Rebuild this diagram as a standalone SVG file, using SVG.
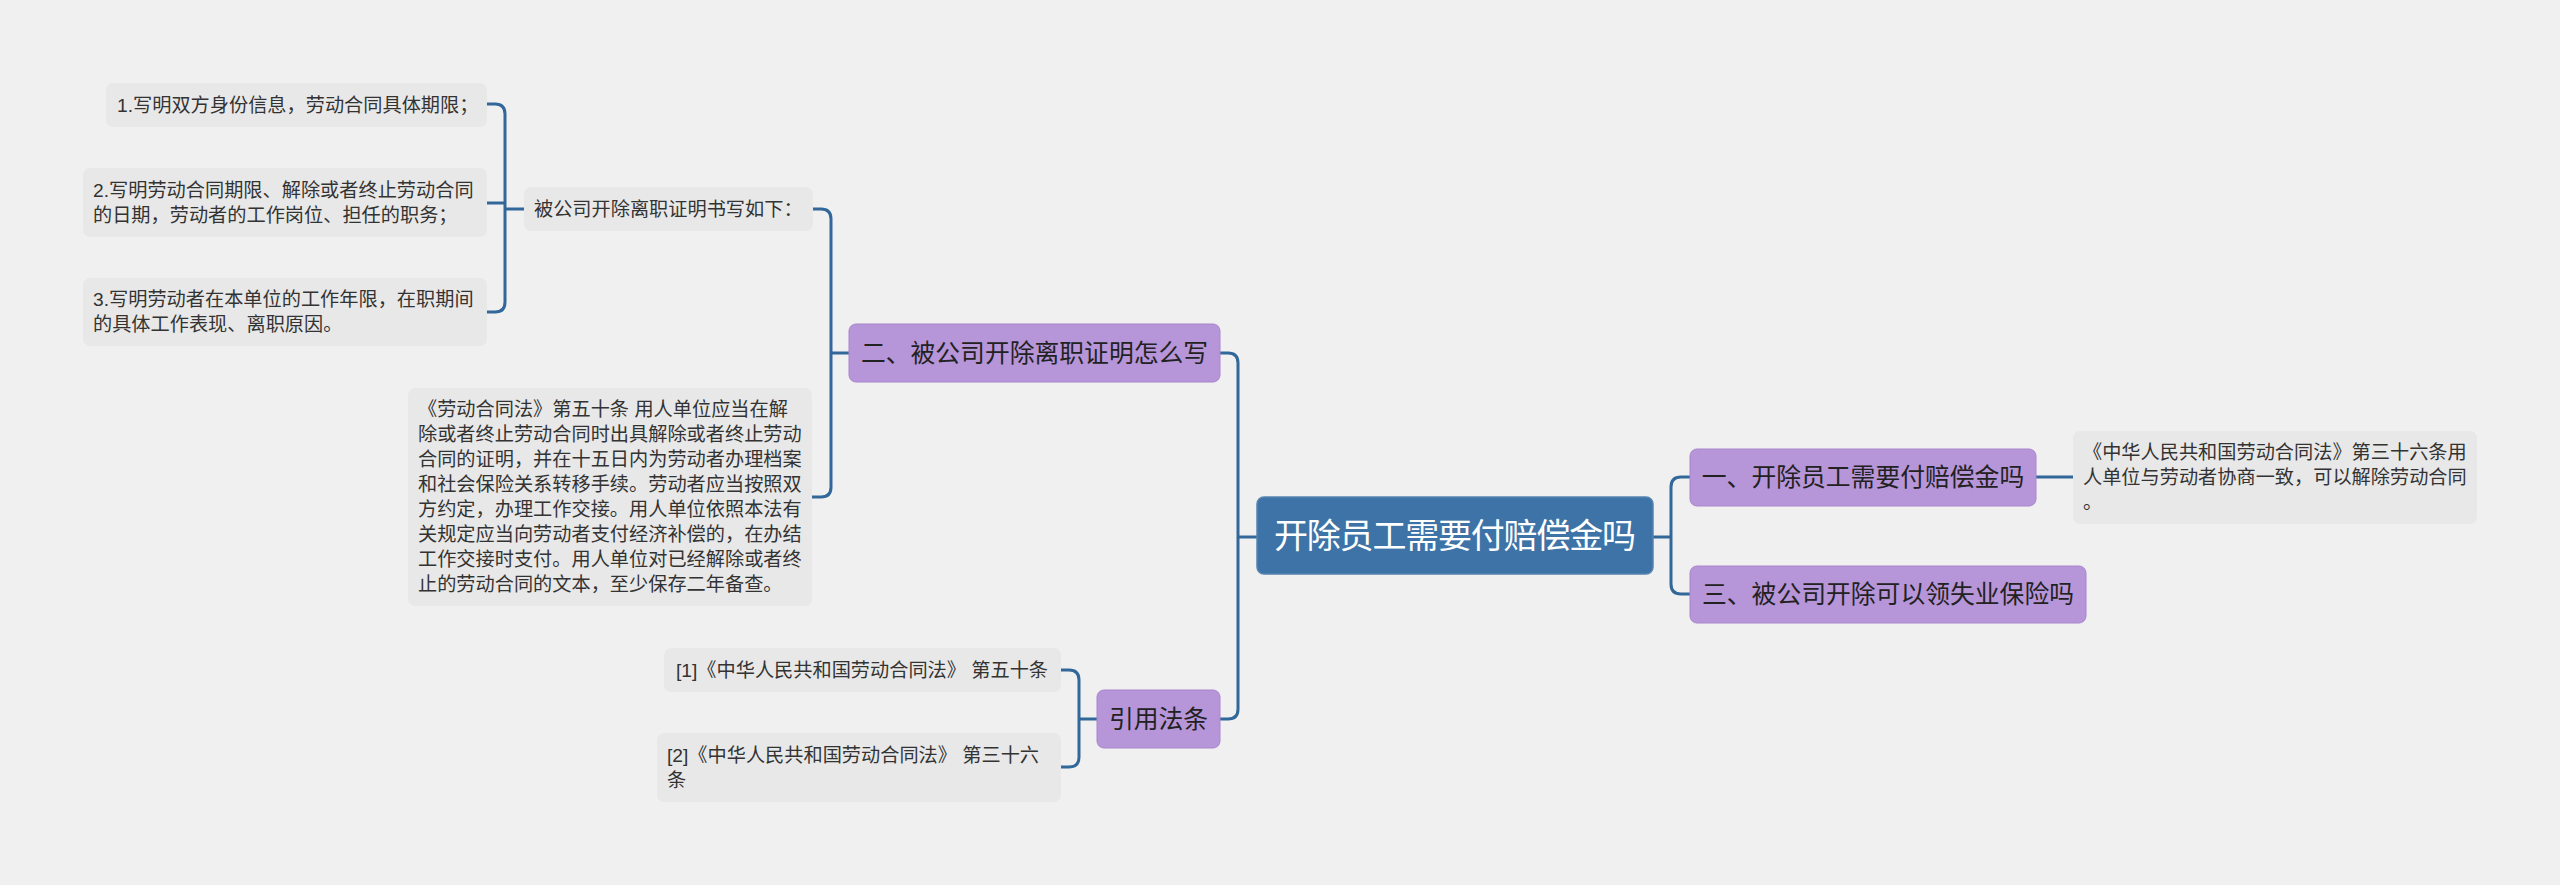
<svg xmlns="http://www.w3.org/2000/svg" width="2560" height="885" viewBox="0 0 2560 885">
<style>
text{font-family:"Liberation Sans","Noto Sans CJK SC",sans-serif;dominant-baseline:central}
.leaf rect{fill:#e8e8e8}
.leaf text{font-size:19.2px;fill:#333}
.branch rect{fill:#b795d9;stroke:#a986cd;stroke-width:1}
.branch text{font-size:24.8px;fill:#222;text-anchor:middle}
.root rect{fill:#3d73a6;stroke:#5683b0;stroke-width:1.5}
.root text{font-size:34px;fill:#fff;text-anchor:middle}
.conn path{fill:none;stroke:#32679a;stroke-width:3;stroke-linecap:butt}
</style>
<rect x="0" y="0" width="2560" height="885" fill="#f0f0f0"/>
<g class="conn" id="connectors">
<path d="M524,209 H505"/>
<path d="M505,209 V114 Q505,104 495,104 H487"/>
<path d="M505,209 V302 Q505,312 495,312 H487"/>
<path d="M505,203 H487"/>
<path d="M849,353 H831"/>
<path d="M831,353 V219 Q831,209 821,209 H813"/>
<path d="M831,353 V487 Q831,497 821,497 H812"/>
<path d="M1257,537 H1238"/>
<path d="M1238,537 V363 Q1238,353 1228,353 H1220"/>
<path d="M1238,537 V709 Q1238,719 1228,719 H1220"/>
<path d="M1097,719 H1079"/>
<path d="M1079,719 V680 Q1079,670 1069,670 H1061"/>
<path d="M1079,719 V757 Q1079,767 1069,767 H1061"/>
<path d="M1653,537 H1671"/>
<path d="M1671,537 V487 Q1671,477 1681,477 H1690"/>
<path d="M1671,537 V584 Q1671,594 1681,594 H1690"/>
<path d="M2036,477 H2073"/>
</g>
<g id="root" class="root">
<rect x="1257" y="497" width="396" height="77" rx="7"/>
<text x="1455" y="536" textLength="362" lengthAdjust="spacing">开除员工需要付赔偿金吗</text>
</g>
<g id="b2" class="branch">
<rect x="849" y="324" width="371" height="58" rx="7"/>
<text x="1034.5" y="353">二、被公司开除离职证明怎么写</text>
</g>
<g id="bref" class="branch">
<rect x="1097" y="690" width="123" height="58" rx="7"/>
<text x="1158.5" y="719">引用法条</text>
</g>
<g id="b1" class="branch">
<rect x="1690" y="449" width="346" height="57" rx="7"/>
<text x="1863" y="477.5">一、开除员工需要付赔偿金吗</text>
</g>
<g id="b3" class="branch">
<rect x="1690" y="566" width="396" height="57" rx="7"/>
<text x="1888" y="594.5">三、被公司开除可以领失业保险吗</text>
</g>
<g id="sub1" class="leaf">
<rect x="524" y="187" width="289" height="44" rx="7"/>
<text x="534" y="209">被公司开除离职证明书写如下：</text>
</g>
<g id="n1" class="leaf">
<rect x="106" y="83" width="381" height="44" rx="7"/>
<text x="117" y="105">1.写明双方身份信息，劳动合同具体期限；</text>
</g>
<g id="n2" class="leaf">
<rect x="83" y="168" width="404" height="69" rx="7"/>
<text x="93" y="190">2.写明劳动合同期限、解除或者终止劳动合同</text>
<text x="93" y="215">的日期，劳动者的工作岗位、担任的职务；</text>
</g>
<g id="n3" class="leaf">
<rect x="83" y="278" width="404" height="68" rx="7"/>
<text x="93" y="299.5">3.写明劳动者在本单位的工作年限，在职期间</text>
<text x="93" y="324.5">的具体工作表现、离职原因。</text>
</g>
<g id="law" class="leaf">
<rect x="408" y="388" width="404" height="218" rx="7"/>
<text x="418" y="409.5">《劳动合同法》第五十条 用人单位应当在解</text>
<text x="418" y="434.5">除或者终止劳动合同时出具解除或者终止劳动</text>
<text x="418" y="459.5">合同的证明，并在十五日内为劳动者办理档案</text>
<text x="418" y="484.5">和社会保险关系转移手续。劳动者应当按照双</text>
<text x="418" y="509.5">方约定，办理工作交接。用人单位依照本法有</text>
<text x="418" y="534.5">关规定应当向劳动者支付经济补偿的，在办结</text>
<text x="418" y="559.5">工作交接时支付。用人单位对已经解除或者终</text>
<text x="418" y="584.5">止的劳动合同的文本，至少保存二年备查。</text>
</g>
<g id="c1" class="leaf">
<rect x="664" y="648" width="397" height="44" rx="7"/>
<text x="676" y="670">[1]《中华人民共和国劳动合同法》 第五十条</text>
</g>
<g id="c2" class="leaf">
<rect x="657" y="733" width="404" height="69" rx="7"/>
<text x="667" y="755">[2]《中华人民共和国劳动合同法》 第三十六</text>
<text x="667" y="780">条</text>
</g>
<g id="leafr" class="leaf">
<rect x="2073" y="431" width="404" height="93" rx="7"/>
<text x="2083" y="452.5">《中华人民共和国劳动合同法》第三十六条用</text>
<text x="2083" y="477.5">人单位与劳动者协商一致，可以解除劳动合同</text>
<text x="2083" y="502.5">。</text>
</g>
</svg>
